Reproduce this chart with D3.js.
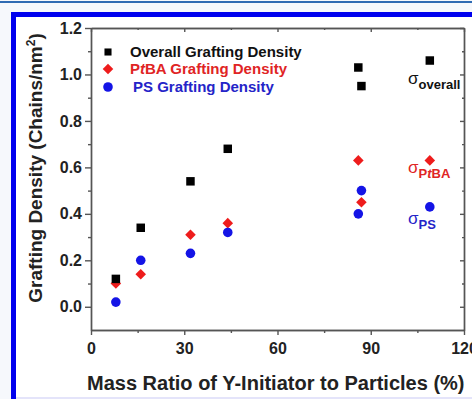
<!DOCTYPE html>
<html>
<head>
<meta charset="utf-8">
<script src="https://cdn.jsdelivr.net/npm/d3@7"></script>
<style>
    body { margin: 0; background: #f6f8fc; }
    svg { display: block; }
    .axis path, .axis line { stroke: #555; stroke-width: 1.4; }
    .axis text { font-family: "Liberation Sans", Arial, sans-serif; font-weight: bold; font-size: 16px; fill: #222; }
</style>
</head>
<body>
<svg class="chart"></svg>
<script>
// mass ratio (%) of each sample
var massRatio = [8, 16, 32, 44, 86, 87, 109];
var overallDensity = [0.12, 0.34, 0.54, 0.68, 1.03, 0.95, 1.06];
var ptbaDensity = [0.10, 0.14, 0.31, 0.36, 0.63, 0.45, 0.63];
var psDensity = [0.02, 0.20, 0.23, 0.32, 0.40, 0.50, 0.43];
var xTicks = [0, 30, 60, 90, 120];
var xMinorTicks = [15, 45, 75, 105];
var yTicks = [0.0, 0.2, 0.4, 0.6, 0.8, 1.0, 1.2];
var yMinorTicks = [0.1, 0.3, 0.5, 0.7, 0.9, 1.1];

var outerSize = {width: 472, height: 399};
var margin = {top: 28, right: 8, bottom: 69, left: 91};
var innerSize = {width: outerSize.width - margin.left - margin.right,
    height: outerSize.height - margin.top - margin.bottom};

var svg = d3.select(".chart")
        .attr("width", outerSize.width)
        .attr("height", outerSize.height);

// journal page frame
svg.append("rect").attr("x", 0).attr("y", 1).attr("width", 472).attr("height", 2).attr("fill", "#2f6bb3");
svg.append("rect").attr("x", 11).attr("y", 12).attr("width", 461).attr("height", 387).attr("fill", "#0000ee");
svg.append("rect").attr("x", 16).attr("y", 17).attr("width", 456).attr("height", 380).attr("fill", "#ffffff");
svg.append("rect").attr("x", 16).attr("y", 397).attr("width", 456).attr("height", 2).attr("fill", "#e4e4fa");

var chart = svg.append("g")
        .attr("transform", "translate(" + margin.left + "," + margin.top + ")");

var xRange = d3.scaleLinear().domain([0, 120]).range([0, innerSize.width]);
var yRange = d3.scaleLinear().domain([-0.1, 1.2]).range([innerSize.height, 0]);

function noLabels() { return ""; }

// bottom and left axes (ticks outward)
chart.append("g").attr("class", "x axis")
        .attr("transform", "translate(0," + innerSize.height + ")")
        .call(d3.axisBottom(xRange).tickValues(xTicks).tickSize(5).tickPadding(8).tickSizeOuter(0));
chart.append("g").attr("class", "x axis")
        .attr("transform", "translate(0," + innerSize.height + ")")
        .call(d3.axisBottom(xRange).tickValues(xMinorTicks).tickSize(3).tickFormat(noLabels).tickSizeOuter(0));
chart.append("g").attr("class", "y axis")
        .call(d3.axisLeft(yRange).tickValues(yTicks).tickSize(6).tickPadding(3)
                .tickFormat(d3.format(".1f")).tickSizeOuter(0));
chart.append("g").attr("class", "y axis")
        .call(d3.axisLeft(yRange).tickValues(yMinorTicks).tickSize(3).tickFormat(noLabels).tickSizeOuter(0));

// top and right axes (ticks inward)
chart.append("g").attr("class", "x axis")
        .call(d3.axisBottom(xRange).tickValues(xTicks).tickSize(4).tickFormat(noLabels).tickSizeOuter(0));
chart.append("g").attr("class", "x axis")
        .call(d3.axisBottom(xRange).tickValues(xMinorTicks).tickSize(2).tickFormat(noLabels).tickSizeOuter(0));
chart.append("g").attr("class", "y axis")
        .attr("transform", "translate(" + innerSize.width + ",0)")
        .call(d3.axisLeft(yRange).tickValues(yTicks).tickSize(4).tickFormat(noLabels).tickSizeOuter(0));
chart.append("g").attr("class", "y axis")
        .attr("transform", "translate(" + innerSize.width + ",0)")
        .call(d3.axisLeft(yRange).tickValues(yMinorTicks).tickSize(2).tickFormat(noLabels).tickSizeOuter(0));

// axis titles
var fontFamily = "Liberation Sans, Arial, sans-serif";
svg.append("text")
        .attr("x", 87).attr("y", 390)
        .style("font-family", fontFamily).style("font-weight", "bold").style("font-size", "20px")
        .attr("fill", "#222")
        .text("Mass Ratio of Y-Initiator to Particles (%)");
var yTitle = svg.append("text")
        .attr("transform", "translate(42,168) rotate(-90)")
        .style("text-anchor", "middle")
        .style("font-family", fontFamily).style("font-weight", "bold").style("font-size", "19px")
        .attr("fill", "#222");
yTitle.append("tspan").text("Grafting Density (Chains/nm");
yTitle.append("tspan").attr("dy", -7).style("font-size", "12px").text("2");
yTitle.append("tspan").attr("dy", 7).text(")");

// markers
var black = "#000000", red = "#ee1c1c", blue = "#1414e6";
var points = massRatio.map(function (x, i) {
    return {x: x, overall: overallDensity[i], ptba: ptbaDensity[i], ps: psDensity[i]};
});
var square = d3.symbol().type(d3.symbolSquare).size(72);
var diamond = d3.symbol().type(d3.symbolSquare).size(56);
var circle = d3.symbol().type(d3.symbolCircle).size(72);

function drawSeries(key, symbol, color, rotate) {
    chart.selectAll(".pt-" + key)
            .data(points)
            .enter().append("path")
            .attr("class", "pt-" + key)
            .attr("d", symbol)
            .attr("fill", color)
            .attr("transform", function (d) {
                return "translate(" + xRange(d.x) + "," + yRange(d[key]) + ") rotate(" + rotate + ")";
            });
}
drawSeries("ptba", diamond, red, 45);
drawSeries("ps", circle, blue, 0);
drawSeries("overall", square, black, 0);

// legend
var legend = svg.append("g").style("font-family", fontFamily).style("font-weight", "bold").style("font-size", "15px");
legend.append("path").attr("d", d3.symbol().type(d3.symbolSquare).size(50)).attr("fill", black)
        .attr("transform", "translate(108,52)");
legend.append("text").attr("x", 130).attr("y", 57).attr("fill", "#111").text("Overall Grafting Density");
legend.append("path").attr("d", diamond).attr("fill", red).attr("transform", "translate(108,69) rotate(45)");
var ptbaLabel = legend.append("text").attr("x", 130).attr("y", 74).attr("fill", "#e02424");
ptbaLabel.append("tspan").text("P");
ptbaLabel.append("tspan").style("font-style", "italic").text("t");
ptbaLabel.append("tspan").text("BA Grafting Density");
legend.append("path").attr("d", circle).attr("fill", blue).attr("transform", "translate(108,87)");
legend.append("text").attr("x", 133).attr("y", 92).attr("fill", "#2424c8").text("PS Grafting Density");

// sigma annotations
function sigmaLabel(x, y, color, parts) {
    var t = svg.append("text").attr("x", x).attr("y", y).attr("fill", color)
            .style("font-family", fontFamily);
    t.append("tspan").style("font-size", "17px").text("\u03c3");
    var sub = t.append("tspan").attr("dy", 5).style("font-size", "13px").style("font-weight", "bold");
    parts.forEach(function (p) {
        sub.append("tspan").style("font-style", p.italic ? "italic" : "normal").text(p.text);
    });
}
sigmaLabel(408, 84, "#111", [{text: "overall"}]);
sigmaLabel(408, 173, "#e02424", [{text: "P"}, {text: "t", italic: true}, {text: "BA"}]);
sigmaLabel(408, 224, "#2424c8", [{text: "PS"}]);
</script>
</body>
</html>
